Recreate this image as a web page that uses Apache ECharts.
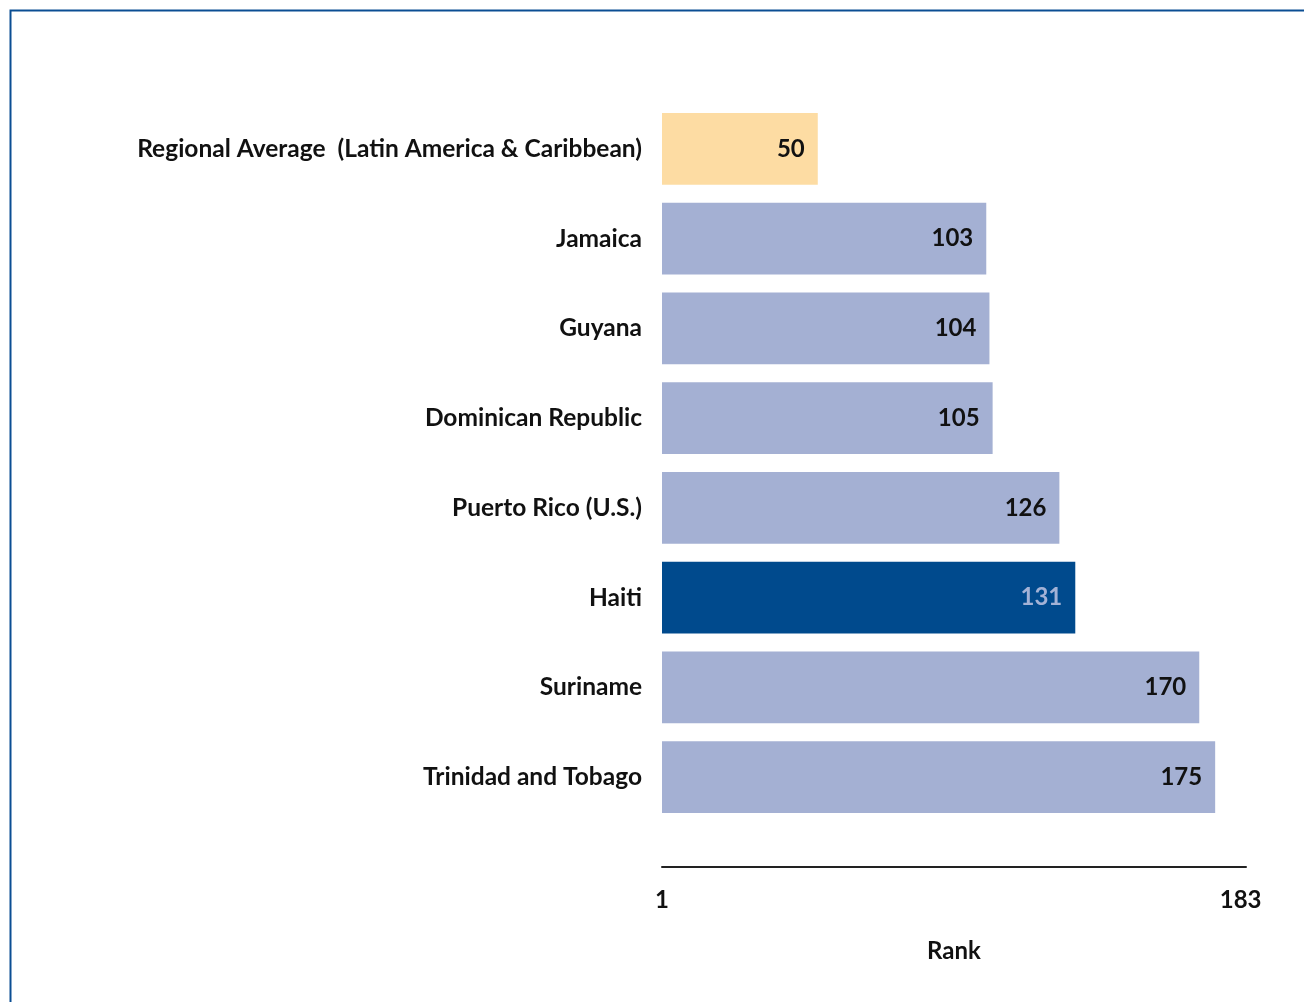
<!DOCTYPE html>
<html>
<head>
<meta charset="utf-8">
<script src="https://cdn.jsdelivr.net/npm/echarts@6/dist/echarts.min.js"></script>
<style>
  html, body { margin: 0; padding: 0; background: #fff; }
  #chart { width: 1304px; height: 1002px; }
</style>
</head>
<body>
<div id="chart"></div>
<script>
var countries = ['Regional Average  (Latin America & Caribbean)', 'Jamaica', 'Guyana', 'Dominican Republic',
    'Puerto Rico (U.S.)', 'Haiti', 'Suriname', 'Trinidad and Tobago'];
var ranks = [50, 103, 104, 105, 126, 131, 170, 175];
var rankTicks = [1, 183];

var font = 'Lato, "Open Sans", sans-serif';

var chart = echarts.init(document.getElementById('chart'));

var barData = [];
for (var i = 0; i < ranks.length; i++) {
    var item = { value: ranks[i] };
    if (i === 0) {
        item.itemStyle = { color: '#fddca3' };
    } else if (countries[i] === 'Haiti') {
        item.itemStyle = { color: '#004a8d' };
        item.label = { color: '#a3b2d6' };
    }
    barData.push(item);
}

chart.setOption({
    backgroundColor: '#fff',
    animation: false,
    graphic: [{
        type: 'rect',
        left: 8,
        top: 8,
        shape: { width: 1400, height: 1100 },
        style: { fill: 'none', stroke: '#0b4e93', lineWidth: 2 },
        silent: true
    }],
    grid: {
        left: 662,
        right: 58,
        top: 104,
        bottom: 180
    },
    xAxis: {
        type: 'value',
        min: 1,
        max: 184.7,
        offset: 45,
        splitLine: { show: false },
        axisTick: { show: false },
        axisLine: { show: true, lineStyle: { color: '#222', width: 2 } },
        axisLabel: {
            customValues: rankTicks,
            margin: 21,
            color: '#111',
            fontFamily: font,
            fontWeight: 'bold',
            fontSize: 24,
            formatter: function (v) {
                return rankTicks.indexOf(v) >= 0 ? v : '';
            }
        },
        name: 'Rank',
        nameLocation: 'middle',
        nameGap: 72,
        nameTextStyle: {
            color: '#111',
            fontFamily: font,
            fontWeight: 'bold',
            fontSize: 24
        }
    },
    yAxis: {
        type: 'category',
        inverse: true,
        data: countries,
        axisLine: { show: false },
        axisTick: { show: false },
        axisLabel: {
            margin: 20,
            color: '#111',
            fontFamily: font,
            fontWeight: 'bold',
            fontSize: 24.5
        }
    },
    series: [{
        type: 'bar',
        barCategoryGap: '20%',
        itemStyle: { color: '#a4b0d3' },
        label: {
            show: true,
            position: 'insideRight',
            distance: 13,
            color: '#111',
            fontFamily: font,
            fontWeight: 'bold',
            fontSize: 24
        },
        data: barData
    }]
});
</script>
</body>
</html>
